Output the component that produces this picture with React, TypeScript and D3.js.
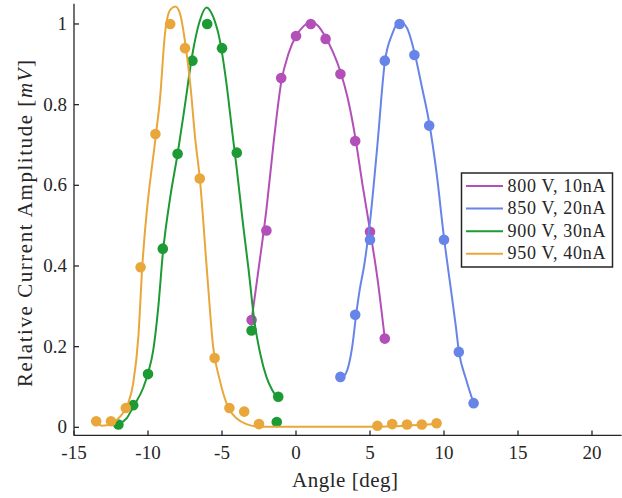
import React from "react";
import * as d3 from "d3";

// ---- data ----
const seriesNames = ["800 V, 10nA", "850 V, 20nA", "900 V, 30nA", "950 V, 40nA"];
const seriesColors = ["#b24fb8", "#6784e8", "#1c9a34", "#e9a73b"];

// measured points
const magX = [-3, -2, -1, 0, 1, 2, 3, 4, 5, 6];
const magY = [0.266, 0.488, 0.866, 0.97, 1.0, 0.963, 0.876, 0.71, 0.485, 0.22];
const bluX = [3, 4, 5, 6, 7, 8, 9, 10, 11, 12];
const bluY = [0.125, 0.279, 0.465, 0.909, 1.0, 0.923, 0.748, 0.465, 0.187, 0.06];
const grnX = [-12, -11, -10, -9, -8, -7, -6, -5, -4, -3, -1.2, -1.3];
const grnY = [0.007, 0.055, 0.132, 0.443, 0.678, 0.909, 1.0, 0.94, 0.681, 0.24, 0.076, 0.013];
const orgX = [-13.5, -12.5, -11.5, -10.5, -9.5, -8.5, -7.5, -6.5, -5.5, -4.5, -3.5, -2.5, 5.5, 6.5, 7.5, 8.5, 9.5];
const orgY = [0.015, 0.015, 0.048, 0.397, 0.727, 1.0, 0.94, 0.617, 0.172, 0.048, 0.039, 0.008, 0.004, 0.008, 0.007, 0.007, 0.01];

// fitted curves (knots)
const magFitX = [-3.0, -2.5, -2.0, -1.5, -1.0, -0.5, 0.0, 0.5, 1.0, 1.5, 2.0, 2.5, 3.0, 3.5, 4.0, 4.5, 5.0, 5.5, 6.0];
const magFitY = [0.266, 0.4, 0.54, 0.71, 0.855, 0.927, 0.97, 0.994, 1.005, 0.995, 0.967, 0.93, 0.882, 0.815, 0.72, 0.6, 0.489, 0.37, 0.22];
const bluFitX = [3.0, 3.3, 3.6, 3.8, 4.05, 4.3, 4.6, 5.0, 5.5, 6.0, 6.5, 7.0, 7.5, 8.0, 8.5, 9.0, 9.5, 10.0, 10.4, 10.8, 11.0, 11.5, 12.0];
const bluFitY = [0.125, 0.13, 0.16, 0.2, 0.275, 0.34, 0.4, 0.51, 0.7, 0.905, 0.975, 1.006, 0.99, 0.93, 0.845, 0.755, 0.63, 0.47, 0.36, 0.25, 0.19, 0.118, 0.06];
const grnFitX = [-12.0, -11.45, -11.0, -10.3, -10.0, -9.65, -9.3, -9.0, -8.5, -8.0, -7.5, -7.0, -6.5, -6.05, -5.6, -5.15, -4.7, -4.3, -4.0, -3.6, -3.2, -2.8, -2.4, -2.0, -1.6, -1.2];
const grnFitY = [0.008, 0.022, 0.051, 0.1, 0.134, 0.19, 0.3, 0.43, 0.57, 0.678, 0.8, 0.925, 1.008, 1.041, 1.018, 0.96, 0.853, 0.73, 0.64, 0.51, 0.39, 0.26, 0.18, 0.125, 0.092, 0.07];
const orgFitX = [-13.5, -13.1, -12.45, -11.9, -11.35, -11.0, -10.65, -10.4, -9.45, -9.2, -8.85, -8.5, -8.15, -7.85, -7.45, -7.15, -6.8, -6.5, -6.0, -5.6, -5.15, -4.6, -4.0, -3.35, -2.45, 5.0, 7.5, 9.5];
const orgFitY = [0.014, 0.004, 0.01, 0.026, 0.059, 0.109, 0.225, 0.39, 0.73, 0.81, 0.977, 1.035, 1.043, 1.027, 0.944, 0.853, 0.712, 0.617, 0.38, 0.2, 0.117, 0.051, 0.022, 0.008, 0.0015, 0.0015, 0.004, 0.008];

const xTicks = [-15, -10, -5, 0, 5, 10, 15, 20];
const yTicks = [0, 0.2, 0.4, 0.6, 0.8, 1];

const FONT = "Liberation Serif";
const AXIS = "#262626";

export default function App() {
  const W = 622, H = 498;
  const x = d3.scaleLinear().domain([-15, 22]).range([74, 621.6]);
  const y = d3.scaleLinear().domain([-0.02, 1.05]).range([435.4, 3.8]);

  const series = [
    { px: magX, py: magY, fx: magFitX, fy: magFitY },
    { px: bluX, py: bluY, fx: bluFitX, fy: bluFitY },
    { px: grnX, py: grnY, fx: grnFitX, fy: grnFitY },
    { px: orgX, py: orgY, fx: orgFitX, fy: orgFitY },
  ];

  const line = d3
    .line<[number, number]>()
    .x((d) => x(d[0]))
    .y((d) => y(d[1]))
    .curve(d3.curveMonotoneX);

  const [x0, x1] = x.range();
  const [yb, yt] = y.range();

  return (
    <svg width={W} height={H} style={{ position: "absolute", left: 0, top: 0, background: "#fff" }}>
      {series.map((s, i) => (
        <g key={i}>
          <path
            d={line(s.fx.map((v, j) => [v, s.fy[j]] as [number, number])) || ""}
            fill="none"
            stroke={seriesColors[i]}
            strokeWidth={2}
          />
          {s.px.map((v, j) => (
            <circle key={j} cx={x(v)} cy={y(s.py[j])} r={5.3} fill={seriesColors[i]} />
          ))}
        </g>
      ))}

      <line x1={x0} x2={x1} y1={yb} y2={yb} stroke={AXIS} strokeWidth={1.3} />
      <line x1={x0} x2={x0} y1={yb} y2={yt} stroke={AXIS} strokeWidth={1.3} />
      {xTicks.map((t) => (
        <g key={"x" + t}>
          <line x1={x(t)} x2={x(t)} y1={yb} y2={yb - 5} stroke={AXIS} strokeWidth={1.3} />
          <text x={x(t)} y={459} textAnchor="middle" fontFamily={FONT} fontSize={19} fill={AXIS}>
            {String(t)}
          </text>
        </g>
      ))}
      {yTicks.map((t) => (
        <g key={"y" + t}>
          <line x1={x0} x2={x0 + 5} y1={y(t)} y2={y(t)} stroke={AXIS} strokeWidth={1.3} />
          <text x={67} y={y(t) + 6} textAnchor="end" fontFamily={FONT} fontSize={19} fill={AXIS}>
            {String(t)}
          </text>
        </g>
      ))}

      <text x={345} y={487} textAnchor="middle" fontFamily={FONT} fontSize={21} fill={AXIS} textLength={106} lengthAdjust="spacing">
        Angle [deg]
      </text>
      <text
        transform="translate(32,223.5) rotate(-90)"
        textAnchor="middle"
        fontFamily={FONT}
        fontSize={21}
        fill={AXIS}
        textLength={327}
        lengthAdjust="spacing"
      >
        Relative Current Amplitude [<tspan fontStyle="italic">mV</tspan>]
      </text>

      <rect x={461.5} y={173} width={151} height={94} fill="#fff" stroke={AXIS} strokeWidth={1.5} />
      {seriesNames.map((n, i) => {
        const cy = 186 + i * 22.6;
        return (
          <g key={n}>
            <line x1={466} x2={503} y1={cy} y2={cy} stroke={seriesColors[i]} strokeWidth={2} />
            <text x={507.5} y={cy + 5.5} fontFamily={FONT} fontSize={18} fill={AXIS} textLength={98} lengthAdjust="spacing">
              {n}
            </text>
          </g>
        );
      })}
    </svg>
  );
}
